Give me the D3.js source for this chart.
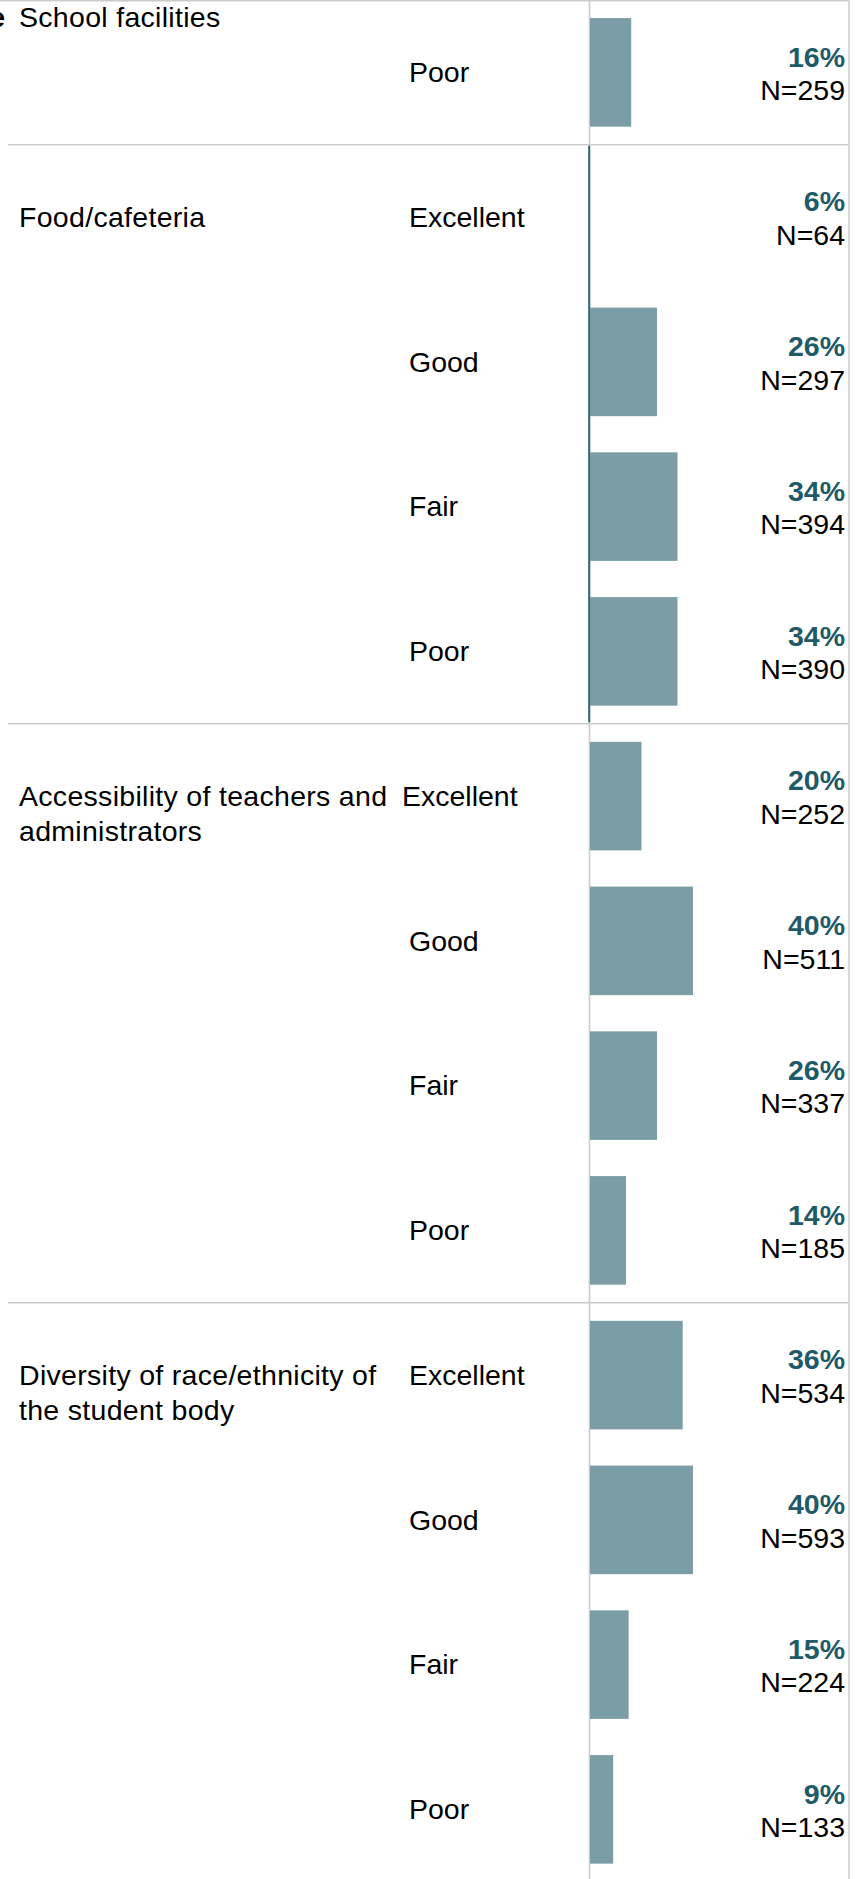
<!DOCTYPE html>
<html>
<head>
<meta charset="utf-8">
<script src="https://cdn.jsdelivr.net/npm/d3@7"></script>
<style>
  html, body { margin: 0; padding: 0; background: #fff; }
  svg { display: block; }
  text { font-family: "Liberation Sans", Arial, sans-serif; }
</style>
</head>
<body>
<div id="chart"></div>
<script>
// ---- data ----
const categories = [
  "School facilities",
  "Food/cafeteria",
  "Accessibility of teachers and administrators",
  "Diversity of race/ethnicity of the student body"
];
const ratingsByCategory = [
  ["Poor"],
  ["Excellent", "Good", "Fair", "Poor"],
  ["Excellent", "Good", "Fair", "Poor"],
  ["Excellent", "Good", "Fair", "Poor"]
];
const pctByCategory = [
  [16],
  [6, 26, 34, 34],
  [20, 40, 26, 14],
  [36, 40, 15, 9]
];
const nByCategory = [
  [259],
  [64, 297, 394, 390],
  [252, 511, 337, 185],
  [534, 593, 224, 133]
];
// the selected (highlighted) category and the mark not drawn in the picture
const highlightedCategory = "Food/cafeteria";
const hiddenBars = ["Food/cafeteria|Excellent"];

// ---- layout ----
const W = 861, H = 1879;
const step = 144.75;
const fontSize = 28.5;
const catX = 19;
const ratingX = 409;
const ratingNudge = { "Accessibility of teachers and administrators|Excellent": -7 };
const axisX = 589.5;
const rightX = 849;
const gridColor = "#cbcbcb";
const barColor = "#7b9da6";
const pctColor = "#1e5a68";
const hiColor = "#2e6673";

const rows = [];
categories.forEach((c, ci) => {
  ratingsByCategory[ci].forEach((r, ri) => {
    rows.push({ id: c + "|" + r, cat: c, ci, ri, rating: r,
                pct: pctByCategory[ci][ri], n: nByCategory[ci][ri] });
  });
});

const y = d3.scaleBand()
  .domain(rows.map(d => d.id))
  .range([0, rows.length * step])
  .paddingInner(0.25)
  .paddingOuter(0.125);

const x = d3.scaleLinear().domain([0, 40]).range([axisX + 0.5, 693]);

const rowTop = d => y(d.id) - y.step() * y.paddingInner() / 2;
const rowCenter = d => y(d.id) + y.bandwidth() / 2;

const svg = d3.select("#chart").append("svg")
  .attr("width", W).attr("height", H);

// section boundaries
const sections = categories.map((c, ci) => {
  const rs = rows.filter(r => r.ci === ci);
  return { cat: c, ci, top: rowTop(rs[0]), bottom: rowTop(rs[rs.length - 1]) + step, first: rs[0] };
});

// top border
svg.append("line")
  .attr("x1", 0).attr("x2", rightX).attr("y1", 0.75).attr("y2", 0.75)
  .attr("stroke", gridColor).attr("stroke-width", 1.5);

// separators between sections
svg.selectAll("line.sep").data(sections.slice(1)).enter().append("line")
  .attr("class", "sep")
  .attr("x1", 8).attr("x2", rightX)
  .attr("y1", d => d.top).attr("y2", d => d.top)
  .attr("stroke", gridColor).attr("stroke-width", 1.5);

// vertical axis line and right border
svg.append("line")
  .attr("x1", axisX).attr("x2", axisX).attr("y1", 0).attr("y2", H)
  .attr("stroke", gridColor).attr("stroke-width", 1.6);
svg.append("line")
  .attr("x1", rightX).attr("x2", rightX).attr("y1", 0).attr("y2", H)
  .attr("stroke", gridColor).attr("stroke-width", 1.5);

// highlighted section axis
sections.filter(s => s.cat === highlightedCategory).forEach(s => {
  svg.append("line")
    .attr("x1", axisX - 0.3).attr("x2", axisX - 0.3)
    .attr("y1", s.top + 1).attr("y2", s.bottom - 1.5)
    .attr("stroke", hiColor).attr("stroke-width", 2);
});

// bars
svg.selectAll("rect.bar")
  .data(rows.filter(d => !hiddenBars.includes(d.id)))
  .enter().append("rect")
  .attr("class", "bar")
  .attr("x", x(0))
  .attr("y", d => y(d.id))
  .attr("width", d => x(d.pct) - x(0))
  .attr("height", y.bandwidth())
  .attr("fill", barColor);

// category labels (wrapped)
const catG = svg.append("g");
sections.forEach(s => {
  const cy = s.ci === 0 ? 17.5 : rowCenter(s.first);
  const t = catG.append("text")
    .attr("x", catX).attr("y", cy + 9.8)
    .attr("font-size", fontSize).attr("fill", "#000")
    .attr("letter-spacing", 0.3);
  const words = s.cat.split(" ");
  let line = [];
  let tspan = t.append("tspan").attr("x", catX).attr("dy", 0);
  words.forEach(w => {
    line.push(w);
    tspan.text(line.join(" "));
    if (tspan.node().getComputedTextLength() > 380 && line.length > 1) {
      line.pop();
      tspan.text(line.join(" "));
      line = [w];
      tspan = t.append("tspan").attr("x", catX).attr("dy", 35).text(w);
    }
  });
});

// clipped tail of a label at the very left edge
svg.append("text")
  .attr("x", 5).attr("y", 27.3)
  .attr("text-anchor", "end")
  .attr("font-size", fontSize).attr("font-weight", "bold")
  .attr("fill", "#000").text("e");

// rating labels
svg.selectAll("text.rating").data(rows).enter().append("text")
  .attr("class", "rating")
  .attr("x", d => ratingX + (ratingNudge[d.id] || 0))
  .attr("y", d => rowCenter(d) + 9.8)
  .attr("font-size", fontSize).attr("fill", "#000")
  .text(d => d.rating);

// value labels
svg.selectAll("text.pct").data(rows).enter().append("text")
  .attr("class", "pct")
  .attr("x", 845).attr("y", d => rowCenter(d) - 5.8)
  .attr("text-anchor", "end")
  .attr("font-size", fontSize).attr("font-weight", "bold")
  .attr("fill", pctColor)
  .text(d => d.pct + "%");

svg.selectAll("text.n").data(rows).enter().append("text")
  .attr("class", "n")
  .attr("x", 845).attr("y", d => rowCenter(d) + 27.8)
  .attr("text-anchor", "end")
  .attr("font-size", fontSize).attr("fill", "#000")
  .text(d => "N=" + d.n);
</script>
</body>
</html>
